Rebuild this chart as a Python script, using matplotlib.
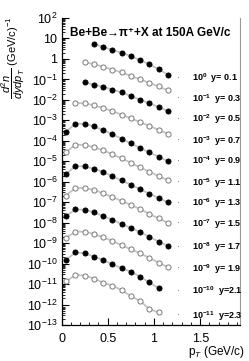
import numpy as np
import matplotlib
matplotlib.use("Agg")
import matplotlib.pyplot as plt
from matplotlib.ticker import FixedLocator, FuncFormatter, LogLocator, NullFormatter

plt.rcParams['font.family'] = ['Liberation Sans', 'DejaVu Sans']
plt.rcParams['mathtext.fontset'] = 'custom'
plt.rcParams['mathtext.rm'] = 'Liberation Sans'
plt.rcParams['mathtext.it'] = 'Liberation Sans:italic'
plt.rcParams['mathtext.bf'] = 'Liberation Sans:bold'

# pT bin centres (GeV/c)
pt_bins = [0.05, 0.15, 0.25, 0.35, 0.45, 0.55, 0.65, 0.75, 0.85, 0.95, 1.05, 1.15]

rapidity = ['0.1', '0.3', '0.5', '0.7', '0.9', '1.1', '1.3', '1.5', '1.7', '1.9', '2.1', '2.3']
scale_exp = [0, -1, -2, -3, -4, -5, -6, -7, -8, -9, -10, -11]
first_bin = [3, 2, 2, 1, 0, 0, 0, 0, 0, 0, 0, 0]

# spectra before scaling by 10^scale_exp
spectra = [
    [5.4, 3.9, 2.75, 2.0, 1.38, 0.87, 0.55, 0.31, 0.17],
    [6.8, 5.6, 4.1, 3.0, 2.2, 1.48, 1.0, 0.68, 0.45, 0.29],
    [7.1, 5.6, 4.3, 3.2, 2.3, 1.55, 1.02, 0.68, 0.45, 0.28],
    [6.9, 6.8, 5.4, 4.0, 2.8, 1.9, 1.26, 0.81, 0.54, 0.34, 0.22],
    [2.8, 6.8, 6.8, 5.0, 3.3, 2.1, 1.26, 0.74, 0.44, 0.27, 0.17, 0.10],
    [2.8, 6.5, 6.3, 4.9, 3.4, 2.2, 1.38, 0.85, 0.50, 0.31, 0.19, 0.12],
    [2.4, 5.8, 5.6, 4.3, 3.0, 1.86, 1.15, 0.71, 0.43, 0.26, 0.16, 0.098],
    [2.1, 5.0, 4.9, 4.0, 2.7, 1.78, 1.17, 0.74, 0.46, 0.27, 0.16, 0.10],
    [2.1, 4.4, 4.3, 3.2, 2.1, 1.38, 0.85, 0.55, 0.35, 0.20, 0.12, 0.074],
    [1.8, 3.7, 3.6, 2.8, 1.9, 1.29, 0.79, 0.50, 0.32, 0.19, 0.11, 0.069],
    [1.55, 3.5, 3.2, 2.2, 1.48, 0.93, 0.60, 0.40, 0.23, 0.12, 0.063],
    [1.35, 2.8, 2.6, 1.86, 1.17, 0.83, 0.51, 0.26, 0.15, 0.060, 0.041],
]

# vertical place of the right-hand labels (log10)
label_pos = [-0.95, -1.96, -2.95, -4.0, -5.0, -6.05, -7.05, -8.05, -9.2, -10.25, -11.35, -12.55]

fig = plt.figure(figsize=(2.49, 3.61), dpi=100)
ax = fig.add_axes([61.5 / 249, 1 - 325 / 361, (240 - 61.5) / 249, (325 - 18) / 361])

for i, vals in enumerate(spectra):
    x = pt_bins[first_bin[i]:first_bin[i] + len(vals)]
    y = np.array(vals) * 10.0 ** scale_exp[i]
    ax.plot(x, y, '-', color='#c4c4c4', lw=1.3, zorder=1)
    if i % 2 == 0:
        ax.plot(x, y, 'o', ms=3.7, mfc='black', mec='black', mew=0.6, zorder=2)
    else:
        ax.plot(x, y, 'o', ms=3.7, mfc='white', mec='#7a7a7a', mew=0.7, zorder=2)
    yl = 10.0 ** label_pos[i]
    ax.text(1.26, yl, '·', fontsize=6, color='#555555', ha='center', va='center')
    sep = ' ' if i < 10 else ''
    ax.text(1.41, yl, r'$\mathbf{10^{%d}}$  y=%s%s' % (scale_exp[i], sep, rapidity[i]),
            fontsize=6.5, fontweight='bold', ha='left', va='center')

ax.set_yscale('log')
ax.set_xlim(0, 1.93)
ax.set_ylim(1e-13, 1e2)


def ylab(v, pos):
    e = int(round(np.log10(v)))
    if e == 0:
        return '1'
    if e == 1:
        return '10'
    return r'$10^{%d}$' % e


ax.yaxis.set_major_locator(FixedLocator([10.0 ** k for k in range(-13, 3)]))
ax.yaxis.set_major_formatter(FuncFormatter(ylab))
ax.yaxis.set_minor_locator(LogLocator(base=10, subs=np.arange(2, 10), numticks=40))
ax.yaxis.set_minor_formatter(NullFormatter())
ax.set_xticks([0, 0.5, 1, 1.5])
ax.set_xticklabels(['0', '0.5', '1', '1.5'])
ax.set_xticks(np.arange(0, 1.95, 0.1), minor=True)

ax.tick_params(which='both', direction='in', labelsize=9, colors='black')
ax.tick_params(which='major', length=5, width=0.8)
ax.tick_params(which='minor', length=2.5, width=0.6)
ax.tick_params(axis='x', pad=6)
ax.tick_params(axis='y', pad=3)

ax.spines['top'].set_visible(False)
ax.spines['right'].set_color('#9a9a9a')
ax.spines['right'].set_linewidth(0.8)
ax.spines['left'].set_linewidth(0.9)
ax.spines['bottom'].set_linewidth(0.9)

ax.text(0.045, 0.952, 'Be+Be\u2192\u03c0\u207a+X at 150A GeV/c',
        transform=ax.transAxes, fontsize=8.5, fontweight='bold', ha='left', va='center')

fig.text(13 / 249, 1 - 58 / 361, r'$\dfrac{d^{2}n}{dydp_{T}}$ (GeV/c)$^{-1}$',
         rotation=90, ha='center', va='center', fontsize=8)
fig.text(245 / 249, 1 - 352 / 361, r'p$_{T}$ (GeV/c)', ha='right', va='center', fontsize=8.5)

fig.savefig('out.png', dpi=100)
